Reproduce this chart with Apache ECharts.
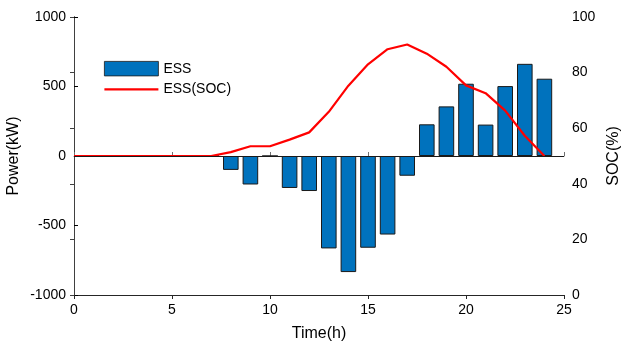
<!DOCTYPE html>
<html><head><meta charset="utf-8">
<script src="https://cdn.jsdelivr.net/npm/echarts@6/dist/echarts.min.js"></script>
<style>html,body{margin:0;padding:0;background:#fff}#c{width:622px;height:350px}</style>
</head><body><div id="c"></div>
<script>
const barHours = [1,2,3,4,5,6,7,8,9,10,11,12,13,14,15,16,17,18,19,20,21,22,23,24];
const essPower = [0,0,0,0,0,0,0,-100,-205,0,-230,-252,-665,-835,-660,-565,-142,228,357,520,226,503,663,556];
const socHours = [0,1,2,3,4,5,6,7,8,9,10,11,12,13,14,15,16,17,18,19,20,21,22,23,24];
const socValues = [50,50,50,50,50,50,50,50,51.4,53.5,53.5,55.9,58.5,65.9,75.3,83,88.4,90.1,86.8,82.1,75.4,72.6,66.3,57.3,50];
const xTicks = [0,5,10,15,20,25];
const powerTicks = [-1000,-500,0,500,1000];
const socTicks = [0,20,40,60,80,100];

const FONT = "'Liberation Sans', Arial, Helvetica, sans-serif";
const chart = echarts.init(document.getElementById('c'), null, {renderer:'canvas'});
const plain = v => String(v);
chart.setOption({
  animation:false,
  textStyle:{fontFamily:FONT},
  grid:{left:74, right:58, top:17, bottom:55, containLabel:false, outerBoundsMode:'none'},
  legend:{
    left:104, top:61, padding:0, orient:'vertical', itemWidth:54, itemHeight:14.5, itemGap:6,
    textStyle:{fontFamily:FONT, fontSize:14, color:'#000'},
    data:[
      {name:'ESS', icon:'rect', itemStyle:{borderWidth:0.8}},
      {name:'ESS(SOC)', icon:'path://M0,0L0.01,0M0,14L0.01,14M0,6L54,6L54,8.2L0,8.2Z', itemStyle:{color:'#FF0000', borderWidth:0}}
    ]
  },
  xAxis:[{
    type:'value', min:xTicks[0], max:xTicks[xTicks.length-1], interval:5,
    name:'Time(h)', nameLocation:'middle', nameGap:31, nameMoveOverlap:false,
    nameTextStyle:{fontFamily:FONT, fontSize:16, color:'#000'},
    axisLine:{show:true, lineStyle:{color:'#707070', width:1}},
    axisTick:{show:true, inside:true, length:4, lineStyle:{color:'#707070'}},
    axisLabel:{fontFamily:FONT, fontSize:14, color:'#000', margin:8, formatter:plain},
    splitLine:{show:false}
  },{
    type:'value', position:'top', min:xTicks[0], max:xTicks[xTicks.length-1], interval:5,
    axisLine:{show:true, lineStyle:{color:'#262626', width:1}},
    axisTick:{show:true, inside:true, length:4, lineStyle:{color:'#262626'}},
    axisLabel:{show:false}, splitLine:{show:false}
  }],
  yAxis:[{
    type:'value', min:powerTicks[0], max:powerTicks[powerTicks.length-1], interval:500,
    name:'Power(kW)', nameLocation:'middle', nameGap:52, nameMoveOverlap:false,
    nameTextStyle:{fontFamily:FONT, fontSize:16, color:'#000'},
    axisLine:{show:true, lineStyle:{color:'#000', width:1}},
    axisTick:{show:true, inside:true, length:4, lineStyle:{color:'#000'}},
    axisLabel:{fontFamily:FONT, fontSize:14, color:'#000', margin:8, formatter:plain},
    splitLine:{show:false}
  },{
    type:'value', position:'right', min:socTicks[0], max:socTicks[socTicks.length-1], interval:20,
    name:'SOC(%)', nameLocation:'middle', nameGap:42, nameRotate:90, nameMoveOverlap:false,
    nameTextStyle:{fontFamily:FONT, fontSize:16, color:'#000'},
    axisLine:{show:true, lineStyle:{color:'#404040', width:1}},
    axisTick:{show:true, inside:true, length:4, lineStyle:{color:'#404040'}},
    axisLabel:{fontFamily:FONT, fontSize:14, color:'#000', margin:8, formatter:plain},
    splitLine:{show:false}
  }],
  series:[{
    name:'ESS', type:'bar', xAxisIndex:0, yAxisIndex:0,
    barWidth:15.6,
    data: barHours.map((h,i)=>[h, essPower[i]]),
    itemStyle:{color:'#0072BD', borderColor:'#1a1a1a', borderWidth:1},
    markLine:{silent:true, symbol:'none', label:{show:false},
      lineStyle:{color:'#1a1a1a', width:1, type:'solid'},
      data:[{yAxis:0}]}
  },{
    name:'ESS(SOC)', type:'line', xAxisIndex:0, yAxisIndex:1,
    symbol:'none', showSymbol:false,
    data: socHours.map((h,i)=>[h, socValues[i]]),
    lineStyle:{color:'#FF0000', width:2.2},
    itemStyle:{color:'#FF0000'}
  }]
});
</script></body></html>
